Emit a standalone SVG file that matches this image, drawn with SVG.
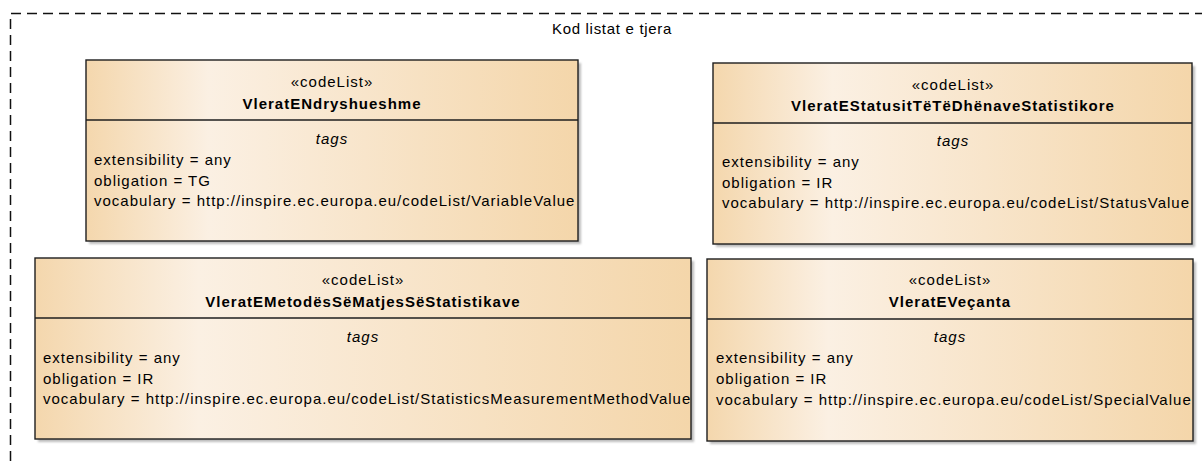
<svg xmlns="http://www.w3.org/2000/svg" width="1202" height="461" viewBox="0 0 1202 461">
<defs>
<linearGradient id="fill" x1="0" y1="0" x2="1" y2="0">
<stop offset="0" stop-color="#F4D7AD"/>
<stop offset="0.25" stop-color="#FBF0E3"/>
<stop offset="1" stop-color="#F4D6AA"/>
</linearGradient>
<filter id="blur" x="-5%" y="-5%" width="110%" height="110%"><feGaussianBlur stdDeviation="1"/></filter>
</defs>
<style>
.frame{fill:none;stroke:#111;stroke-width:1.5;stroke-dasharray:10 6}
.shadow{fill:#bdbdbd;filter:url(#blur)}
.box{fill:url(#fill);stroke:#1e1e1e;stroke-width:1.4}
.div{stroke:#1e1e1e;stroke-width:1.4}
text{font-family:"Liberation Sans",Arial,sans-serif;font-size:15px;fill:#000;letter-spacing:1px}
.c{text-anchor:middle}
.b{font-weight:bold}
.i{font-style:italic}
.t{letter-spacing:0.7px}
</style>
<g id="package">
<path class="frame" d="M10.5,461 V13.5 H1202"/>
<text class="c t" x="612" y="34">Kod listat e tjera</text>
</g>
<g id="connectors"></g>
<g id="VleratENdryshueshme">
<rect class="shadow" x="89" y="63" width="492" height="181"/>
<rect class="box" x="86" y="60" width="492" height="181"/>
<line class="div" x1="86" y1="120" x2="578" y2="120"/>
<text class="c" x="332" y="87">«codeList»</text>
<text class="c b" x="332" y="109">VleratENdryshueshme</text>
<text class="c i" x="332" y="144">tags</text>
<text x="94" y="165">extensibility = any</text>
<text x="94" y="186">obligation = TG</text>
<text x="94" y="206">vocabulary = http://inspire.ec.europa.eu/codeList/VariableValue</text>
</g>
<g id="VleratEStatusitTeTeDhenaveStatistikore">
<rect class="shadow" x="716" y="66" width="479" height="181"/>
<rect class="box" x="713" y="63" width="479" height="181"/>
<line class="div" x1="713" y1="123" x2="1192" y2="123"/>
<text class="c" x="953" y="90">«codeList»</text>
<text class="c b" x="953" y="111">VleratEStatusitTëTëDhënaveStatistikore</text>
<text class="c i" x="953" y="146">tags</text>
<text x="722" y="167">extensibility = any</text>
<text x="722" y="188">obligation = IR</text>
<text x="722" y="208">vocabulary = http://inspire.ec.europa.eu/codeList/StatusValue</text>
</g>
<g id="VleratEMetodesSeMatjesSeStatistikave">
<rect class="shadow" x="38" y="261" width="656" height="181"/>
<rect class="box" x="35" y="258" width="656" height="181"/>
<line class="div" x1="35" y1="318" x2="691" y2="318"/>
<text class="c" x="363" y="285">«codeList»</text>
<text class="c b" x="363" y="307">VleratEMetodësSëMatjesSëStatistikave</text>
<text class="c i" x="363" y="342">tags</text>
<text x="43" y="363">extensibility = any</text>
<text x="43" y="384">obligation = IR</text>
<text x="43" y="404">vocabulary = http://inspire.ec.europa.eu/codeList/StatisticsMeasurementMethodValue</text>
</g>
<g id="VleratEVecanta">
<rect class="shadow" x="710" y="262" width="486" height="182"/>
<rect class="box" x="707" y="259" width="486" height="182"/>
<line class="div" x1="707" y1="319" x2="1193" y2="319"/>
<text class="c" x="950" y="285">«codeList»</text>
<text class="c b" x="950" y="307">VleratEVeçanta</text>
<text class="c i" x="950" y="342">tags</text>
<text x="716" y="363">extensibility = any</text>
<text x="716" y="384">obligation = IR</text>
<text x="716" y="405">vocabulary = http://inspire.ec.europa.eu/codeList/SpecialValue</text>
</g>
</svg>
